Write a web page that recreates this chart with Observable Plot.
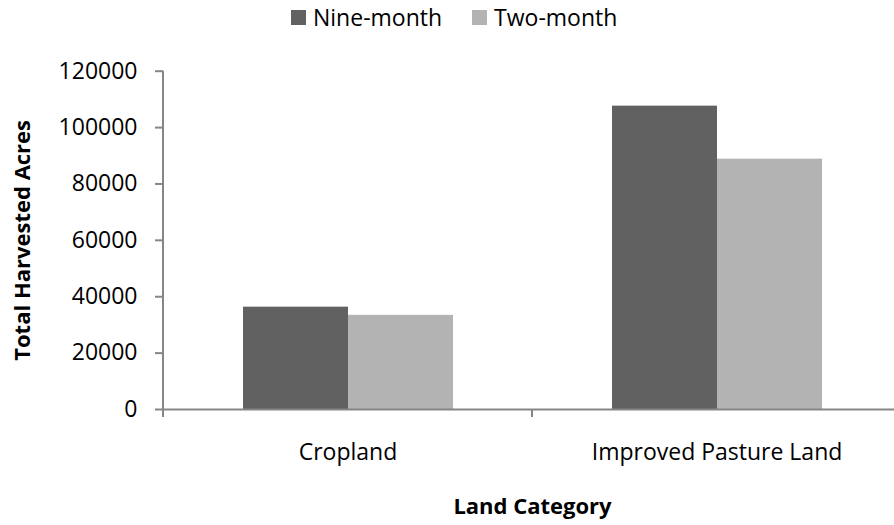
<!DOCTYPE html>
<html><head><meta charset="utf-8">
<script src="https://cdn.jsdelivr.net/npm/d3@7"></script>
<script src="https://cdn.jsdelivr.net/npm/@observablehq/plot@0.6"></script>
<style>
body{margin:0;background:#fff;font-family:"Open Sans",sans-serif;}
#wrap{width:894px;height:525px;overflow:hidden;position:relative;background:#fff;}
#legend{height:34px;display:flex;align-items:center;padding-left:291px;font-size:23px;color:#000;font-family:"Open Sans",sans-serif;}
.item{display:flex;align-items:center;margin-right:30px;}
.sw{width:15px;height:15px;margin-right:7px;}
#chart svg{max-width:none !important;}
</style></head><body>
<div id="wrap"><div id="legend"></div><div id="chart"></div></div>
<script>
const categories = ["Cropland", "Improved Pasture Land"];
const series = ["Nine-month", "Two-month"];
const nineMonth = [36300, 107600];
const twoMonth = [33400, 88800];
const colors = ["#616161", "#b3b3b3"];
const yTicks = [0, 20000, 40000, 60000, 80000, 100000, 120000];
const yLabel = "Total Harvested Acres";
const xLabel = "Land Category";

const data = categories.flatMap((c, i) => [
  {category: c, series: series[0], value: nineMonth[i]},
  {category: c, series: series[1], value: twoMonth[i]}
]);

// legend
const legend = d3.select("#legend");
series.forEach((s, i) => {
  const it = legend.append("div").attr("class", "item");
  it.append("div").attr("class", "sw").style("background", colors[i]);
  it.append("span").text(s);
});

const axisColor = "#868686";
const plot = Plot.plot({
  width: 901, height: 491,
  marginLeft: 163, marginRight: 0, marginTop: 36.7, marginBottom: 116,
  style: {fontFamily: "Open Sans", fontSize: "23px", color: "#000", background: "#fff", overflow: "visible", maxWidth: "none"},
  fx: {domain: categories, padding: 0, label: null},
  x: {domain: series, paddingInner: 0, paddingOuter: 0.757, axis: null},
  y: {domain: [0, 120000], label: null},
  color: {domain: series, range: colors},
  marks: [
    Plot.barY(data, {fx: "category", x: "series", y: "value", fill: "series"}),
    Plot.ruleY([0], {stroke: axisColor, strokeWidth: 2}),
    Plot.axisY({ticks: yTicks, tickSize: 8, tickPadding: 18, stroke: axisColor, strokeWidth: 2, fill: "#000", fontSize: 23, tickFormat: d3.format("d"), label: null}),
    Plot.axisY({ticks: [], tickSize: 0, label: yLabel, labelAnchor: "center", labelOffset: 149, labelArrow: "none", fill: "#000", fontWeight: "bold", fontSize: 22}),
    Plot.axisFx({anchor: "bottom", tickSize: 0, tickPadding: 34, fontSize: 23, fill: "#000", label: null}),
    Plot.axisFx({anchor: "bottom", ticks: [], tickSize: 0, label: xLabel, labelAnchor: "center", labelOffset: 104, labelArrow: "none", fill: "#000", fontWeight: "bold", fontSize: 22})
  ]
});
document.getElementById("chart").appendChild(plot);

// Excel-style axis line and category boundary ticks, positioned via the plot's scales
const fx = plot.scale("fx"), y = plot.scale("y");
const svg = d3.select(plot);
const y0 = y.apply(0), yTop = y.apply(120000);
const x0 = fx.apply(categories[0]);
svg.append("line").attr("x1", x0).attr("x2", x0).attr("y1", yTop).attr("y2", y0 + 8)
  .attr("stroke", axisColor).attr("stroke-width", 2);
const bounds = categories.map(c => fx.apply(c)).concat([fx.apply(categories[categories.length - 1]) + fx.bandwidth]);
bounds.forEach(b => {
  svg.append("line").attr("x1", b).attr("x2", b).attr("y1", y0).attr("y2", y0 + 8)
    .attr("stroke", axisColor).attr("stroke-width", 2);
});
</script>
</body></html>
